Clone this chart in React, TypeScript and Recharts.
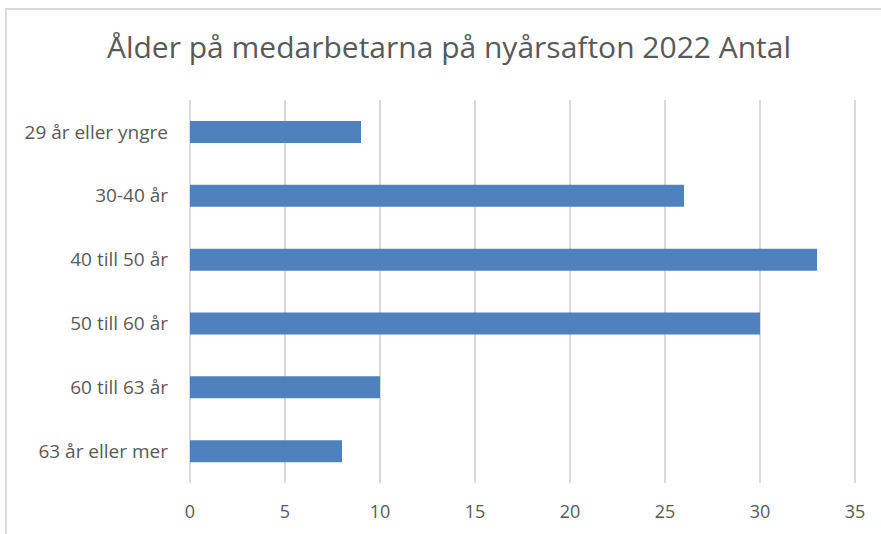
import React from "react";
import { BarChart, Bar, XAxis, YAxis, CartesianGrid } from "recharts";

const categories = [
  "29 år eller yngre",
  "30-40 år",
  "40 till 50 år",
  "50 till 60 år",
  "60 till 63 år",
  "63 år eller mer",
];
const antal = [9, 26, 33, 30, 10, 8];
const xTicks = [0, 5, 10, 15, 20, 25, 30, 35];

const data = categories.map((c, i) => ({ group: c, antal: antal[i] }));

const font = "Open Sans, Noto Sans, sans-serif";

const App: React.FC = () => {
  return (
    <div
      style={{
        position: "absolute",
        left: 0,
        top: 0,
        width: 881,
        height: 534,
        background: "#fff",
        overflow: "hidden",
        fontFamily: font,
      }}
    >
      <div
        style={{
          position: "absolute",
          left: 5,
          top: 8,
          width: 890,
          height: 540,
          border: "2px solid #d9d9d9",
          boxSizing: "border-box",
        }}
      />
      <div
        style={{
          position: "absolute",
          left: 0,
          top: 26,
          width: 898,
          textAlign: "center",
          fontSize: 30,
          lineHeight: "41px",
          color: "#595959",
        }}
      >
        Ålder på medarbetarna på nyårsafton 2022 Antal
      </div>
      <BarChart
        width={881}
        height={534}
        data={data}
        layout="vertical"
        margin={{ top: 100, right: 26, bottom: 21, left: 0 }}
        style={{ position: "absolute", left: 0, top: 0 }}
      >
        <CartesianGrid horizontal={false} stroke="#d9d9d9" strokeWidth={2} />
        <XAxis
          type="number"
          domain={[0, 35]}
          ticks={xTicks}
          axisLine={false}
          tickLine={false}
          tickMargin={16}
          height={30}
          tick={{ fill: "#595959", fontSize: 18, fontFamily: font }}
        />
        <YAxis
          type="category"
          dataKey="group"
          width={190}
          axisLine={false}
          tickLine={false}
          tickMargin={16}
          tick={{ fill: "#595959", fontSize: 19, fontFamily: font }}
        />
        <Bar dataKey="antal" fill="#4f81bd" barSize={22} isAnimationActive={false} />
      </BarChart>
    </div>
  );
};

export default App;
